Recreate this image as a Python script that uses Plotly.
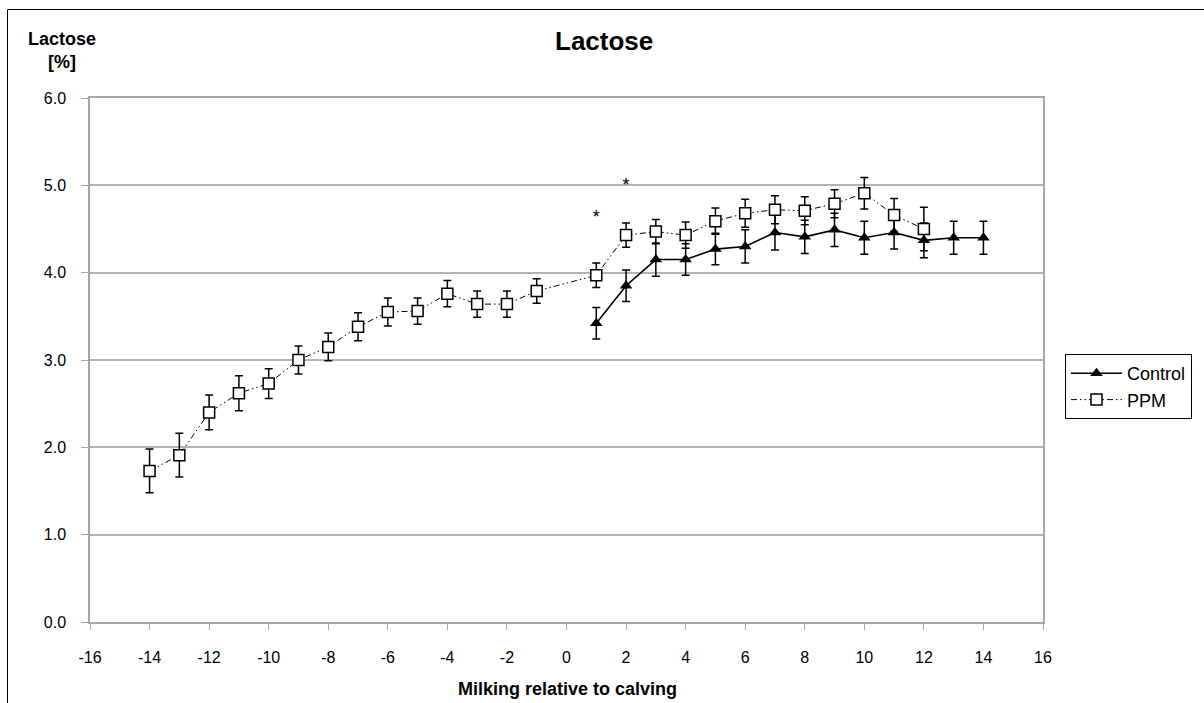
import plotly.graph_objects as go

# Data
ctrl_x = [1, 2, 3, 4, 5, 6, 7, 8, 9, 10, 11, 12, 13, 14]
ctrl_y = [3.42, 3.85, 4.15, 4.15, 4.27, 4.30, 4.46, 4.41, 4.49, 4.40, 4.46, 4.37, 4.40, 4.40]
ctrl_err = [0.18, 0.18, 0.19, 0.18, 0.18, 0.19, 0.20, 0.19, 0.19, 0.19, 0.19, 0.20, 0.19, 0.19]

ppm_x = [-14, -13, -12, -11, -10, -9, -8, -7, -6, -5, -4, -3, -2, -1, 1, 2, 3, 4, 5, 6, 7, 8, 9, 10, 11, 12]
ppm_y = [1.73, 1.91, 2.40, 2.62, 2.73, 3.00, 3.15, 3.38, 3.55, 3.56, 3.76, 3.64, 3.64, 3.79,
         3.97, 4.43, 4.47, 4.43, 4.59, 4.68, 4.72, 4.71, 4.79, 4.91, 4.66, 4.50]
ppm_err = [0.25, 0.25, 0.20, 0.20, 0.17, 0.16, 0.16, 0.16, 0.16, 0.15, 0.15, 0.15, 0.15, 0.14,
           0.14, 0.14, 0.14, 0.15, 0.15, 0.16, 0.16, 0.16, 0.16, 0.18, 0.19, 0.25]

sig_x = [1, 2]
sig_y = [4.62, 4.99]

x_ticks = list(range(-16, 17, 2))
y_ticks = [0, 1, 2, 3, 4, 5, 6]

FONT = "Liberation Sans, Arial, sans-serif"

fig = go.Figure()

fig.add_trace(go.Scatter(
    x=ctrl_x, y=ctrl_y, name="Control", mode="lines+markers",
    line=dict(color="black", width=1.6),
    marker=dict(symbol="triangle-up", size=11, color="black"),
    error_y=dict(type="data", array=ctrl_err, visible=True, color="black", thickness=1.5, width=4),
))

fig.add_trace(go.Scatter(
    x=ppm_x, y=ppm_y, name="PPM", mode="lines+markers",
    line=dict(color="black", width=1, dash="6px,3px,1.5px,3px,1.5px,3px"),
    marker=dict(symbol="square", size=11, color="white", line=dict(color="black", width=1.5)),
    error_y=dict(type="data", array=ppm_err, visible=True, color="black", thickness=1.5, width=4),
))

fig.add_trace(go.Scatter(
    x=sig_x, y=sig_y, mode="text", text=["*", "*"], showlegend=False,
    textfont=dict(family=FONT, size=18, color="black"), hoverinfo="skip",
))

L, R, T, B = 90, 161, 98, 81
W, H = 1204, 703
pw, ph = W - L - R, H - T - B

def px_x(p):
    return (p - L) / pw

def px_y(p):
    return (H - B - p) / ph

fig.update_layout(
    width=W, height=H,
    margin=dict(l=L, r=R, t=T, b=B),
    paper_bgcolor="white", plot_bgcolor="white",
    font=dict(family=FONT, size=16, color="black"),
    showlegend=True,
    legend=dict(x=px_x(1065), y=px_y(354), xanchor="left", yanchor="top",
                bordercolor="black", borderwidth=1, bgcolor="white",
                font=dict(size=18, family=FONT), itemwidth=51),
    xaxis=dict(range=[-16, 16], tickvals=x_ticks, ticktext=[str(v) for v in x_ticks],
               showgrid=False, zeroline=False, showline=True, linecolor="#a6a6a6", linewidth=1.5,
               mirror=True, ticks="outside", tickcolor="#a6a6a6", ticklen=6,
               tickfont=dict(size=16), ticklabelstandoff=14),
    yaxis=dict(range=[0, 6], tickvals=y_ticks, ticktext=[f"{v:.1f}" for v in y_ticks],
               showgrid=True, gridcolor="#b3b3b3", gridwidth=1.5, zeroline=False,
               showline=True, linecolor="#a6a6a6", linewidth=1.5, mirror=True,
               ticks="outside", tickcolor="#a6a6a6", ticklen=7, tickfont=dict(size=16),
               ticklabelstandoff=12),
)

# Chart title
fig.add_annotation(text="<b>Lactose</b>", xref="paper", yref="paper",
                   x=px_x(604), y=px_y(41), xanchor="center", yanchor="middle",
                   showarrow=False, font=dict(size=26, family=FONT))
# Y axis title
fig.add_annotation(text="<b>Lactose<br>[%]</b>", xref="paper", yref="paper",
                   x=px_x(62), y=px_y(51), xanchor="center", yanchor="middle",
                   showarrow=False, font=dict(size=18, family=FONT), align="center")
# X axis title
fig.add_annotation(text="<b>Milking relative to calving</b>", xref="paper", yref="paper",
                   x=px_x(567), y=px_y(689), xanchor="center", yanchor="middle",
                   showarrow=False, font=dict(size=18, family=FONT))

# Outer chart frame (partially visible)
fig.add_shape(type="line", xref="paper", yref="paper",
              x0=px_x(7.5), x1=px_x(7.5), y0=px_y(9.5), y1=px_y(710),
              line=dict(color="black", width=1))
fig.add_shape(type="line", xref="paper", yref="paper",
              x0=px_x(7.5), x1=px_x(1210), y0=px_y(9.5), y1=px_y(9.5),
              line=dict(color="black", width=1))

fig.write_html("out.html", config={"displayModeBar": False},
               post_script="document.body.style.margin='0';document.body.style.overflow='hidden';")
